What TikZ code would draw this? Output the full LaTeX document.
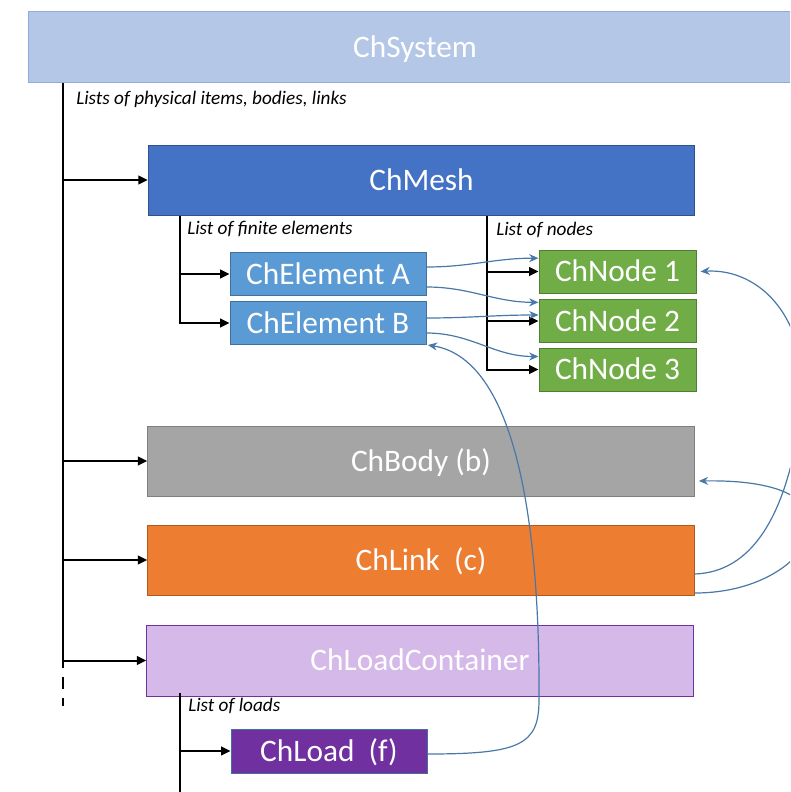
\documentclass[tikz,border=0pt]{standalone}
\usepackage{fontspec}
\setmainfont{Carlito}
\usetikzlibrary{arrows.meta}

\definecolor{sysfill}{HTML}{B4C7E7}
\definecolor{sysdraw}{HTML}{8FAADC}
\definecolor{meshfill}{HTML}{4472C4}
\definecolor{meshdraw}{HTML}{2F528F}
\definecolor{elemfill}{HTML}{5B9BD5}
\definecolor{elemdraw}{HTML}{41719C}
\definecolor{nodefill}{HTML}{70AD47}
\definecolor{nodedraw}{HTML}{507E32}
\definecolor{bodyfill}{HTML}{A5A5A5}
\definecolor{bodydraw}{HTML}{7F7F7F}
\definecolor{linkfill}{HTML}{ED7D31}
\definecolor{linkdraw}{HTML}{AE5A21}
\definecolor{contfill}{HTML}{D5B9E9}
\definecolor{contdraw}{HTML}{7030A0}
\definecolor{loadfill}{HTML}{7030A0}
\definecolor{refblue}{HTML}{4878A8}

\begin{document}
\begin{tikzpicture}[
        x=0.75pt, y=-0.75pt,
        every node/.style={inner sep=0pt, text centered},
        box/.style={draw, line width=0.75pt, text=white, font=\fontsize{23.5}{26}\selectfont,
            text height=15.1pt, text depth=0pt},
        big/.style={box, minimum width=410pt, minimum height=52.5pt},
        elem/.style={box, fill=elemfill, draw=elemdraw, minimum width=147pt, minimum height=32.25pt},
        leaf/.style={box, fill=nodefill, draw=nodedraw, minimum width=117.75pt, minimum height=32.25pt},
        note/.style={anchor=west, font=\fontsize{14.4}{16}\selectfont\itshape},
        trunk/.style={line width=1.5pt},
        feed/.style={trunk, -{Triangle[length=7pt,width=6.5pt]}},
        ref/.style={draw=refblue, line width=0.9pt, -{Stealth[length=7pt,width=6pt]}},
    ]
    \clip (0,0) rectangle (790,792);

    % boxes
    \node[box, fill=sysfill, draw=sysdraw, minimum width=580.5pt, minimum height=53.25pt](sys) at (415,47.5){ChSystem};
    \node[big, fill=meshfill, draw=meshdraw](mesh) at (421.5,180){ChMesh};
    \node[elem](elA) at (328,274){ChElement A};
    \node[elem](elB) at (328,323){ChElement B};
    \node[leaf](n1) at (617.5,271.5){ChNode 1};
    \node[leaf](n2) at (617.5,321){ChNode 2};
    \node[leaf](n3) at (617.5,369.5){ChNode 3};
    \node[big, fill=bodyfill, draw=bodydraw](body) at (421,461){ChBody (b)};
    \node[big, fill=linkfill, draw=linkdraw](link) at (421,560){ChLink\ \ (c)};
    \node[big, fill=contfill, draw=contdraw, minimum height=53.25pt](cont) at (420,660.5){ChLoadContainer};
    \node[box, fill=loadfill, draw=elemdraw, minimum width=147pt, minimum height=33pt](load) at (329,751){ChLoad\ \ (f)};

    % list labels
    \node[note](lsys) at (76,99){Lists of physical items, bodies, links};
    \node[note](lfe) at (187,229){List of finite elements};
    \node[note](lnd) at (496,230){List of nodes};
    \node[note](lld) at (188,706){List of loads};

    % trunks
    \coordinate (end) at (63,668);
    \coordinate (fe) at (180,0);
    \coordinate (nd) at (487,0);
    \coordinate (bot) at (180,800);
    \draw[trunk] (sys.south -| end) -- (end);
    \draw[trunk, dash pattern=on 9pt off 6.75pt] ([yshift=-6.75pt]end) -- ++(0,29);
    \foreach \n in {mesh,body,link,cont}
        \draw[feed] (\n.west -| end) -- (\n.west);
    \draw[feed] (mesh.south -| fe) |- (elB.west);
    \draw[feed] (elA.west -| fe) -- (elA.west);
    \draw[feed] (mesh.south -| nd) |- (n3.west);
    \foreach \n in {n1,n2}
        \draw[feed] (\n.west -| nd) -- (\n.west);
    \draw[trunk] ([yshift=3pt]cont.south -| fe) -- (bot);
    \draw[feed] (load.west -| fe) -- (load.west);

    % references
    \draw[ref] ([yshift=5.25pt]elA.east) to[out=0,in=180] ([yshift=10pt]n1.west);
    \draw[ref] ([yshift=-9.75pt]elA.east) to[out=0,in=180] ([yshift=14pt]n2.west);
    \draw[ref] ([yshift=3.75pt]elB.east) to[out=0,in=180] ([yshift=4.5pt]n2.west);
    \draw[ref] ([yshift=-7.5pt]elB.east) to[out=0,in=180] ([yshift=9.75pt]n3.west);
    \draw[ref] ([yshift=-10.5pt]link.east) .. controls (750,572) and (785,520) .. (800,420)
        .. controls (815,320) and (760,268) .. ([xshift=3pt]n1.east);
    \draw[ref] ([yshift=-24.75pt]link.east) .. controls (760,593) and (805,560) .. (810,530)
        .. controls (815,490) and (760,480) .. ([xshift=3pt,yshift=-15pt]body.east);
    \draw[ref] ([yshift=-2.25pt]load.east) .. controls (520,754) and (539,745) .. (539,700)
        .. controls (540,540) and (520,360) .. ([xshift=1pt]elB.south east);

\end{tikzpicture}
\end{document}
